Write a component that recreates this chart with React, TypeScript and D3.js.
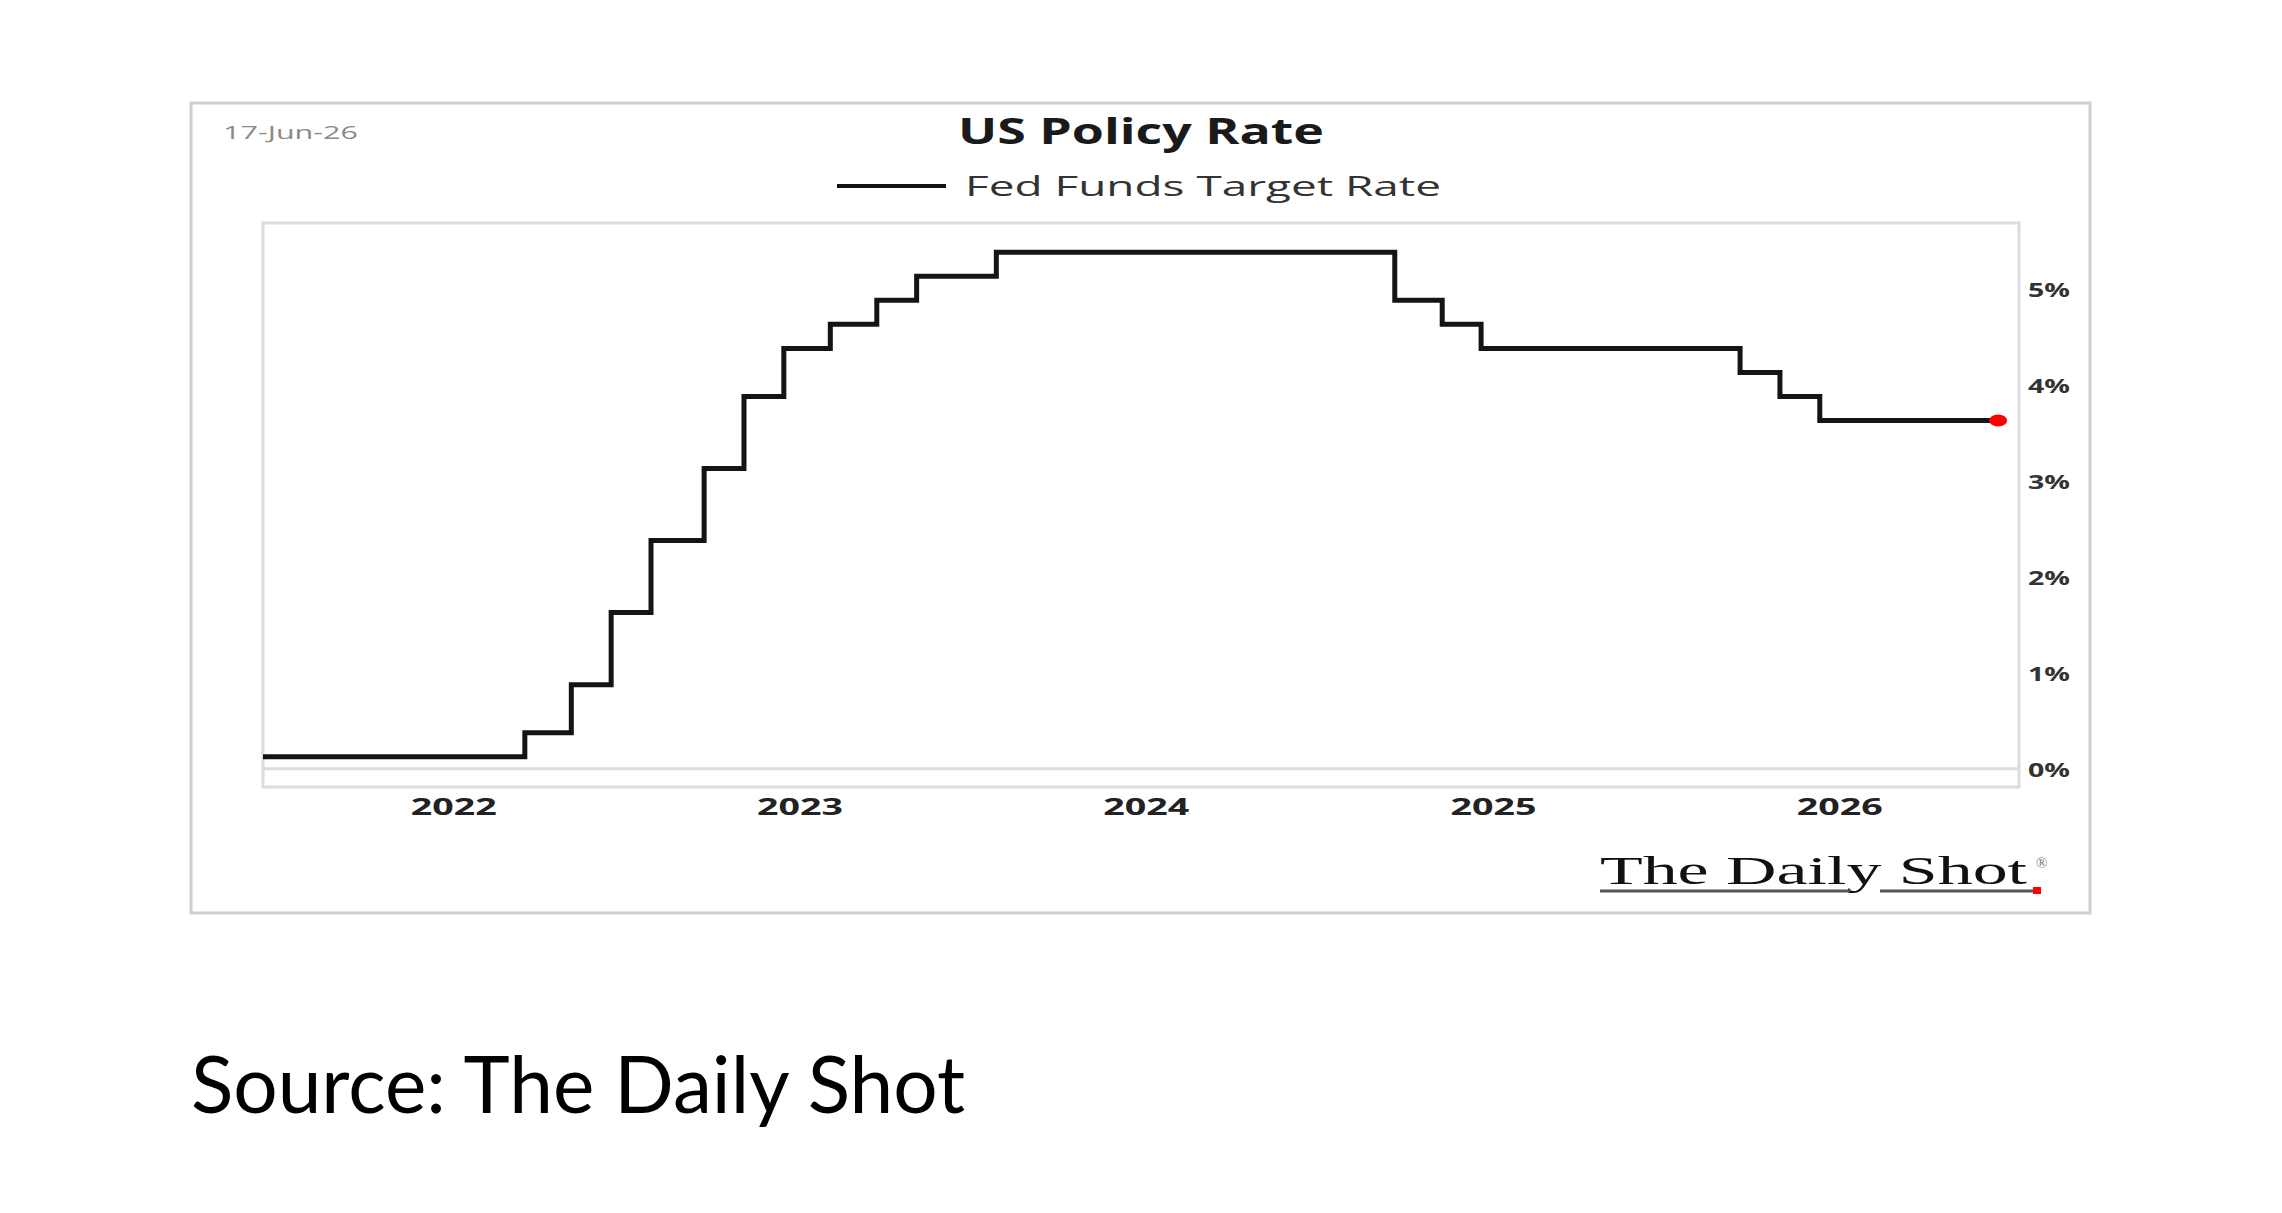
import React from "react";
import * as d3 from "d3";

// Fed Funds Target Rate (midpoint of target range), step changes
const rateDates: string[] = [
  "2021-06-14", "2022-03-17", "2022-05-05", "2022-06-16", "2022-07-28", "2022-09-22",
  "2022-11-03", "2022-12-15", "2023-02-02", "2023-03-23", "2023-05-04", "2023-07-27",
  "2024-09-19", "2024-11-08", "2024-12-19", "2025-09-18", "2025-10-30", "2025-12-11",
  "2026-06-17",
];
const rateValues: number[] = [
  0.125, 0.375, 0.875, 1.625, 2.375, 3.125,
  3.875, 4.375, 4.625, 4.875, 5.125, 5.375,
  4.875, 4.625, 4.375, 4.125, 3.875, 3.625,
  3.625,
];
const yearTicks: number[] = [2022, 2023, 2024, 2025, 2026];
const yTicks: number[] = [0, 1, 2, 3, 4, 5];
const xDomain: string[] = ["2021-06-14", "2026-07-09"];
const yDomain: number[] = [-0.19, 5.68];

const W = 2282;
const H = 1213;
const plot = { left: 263, right: 2019, top: 223, bottom: 787 };
const FONT = "'Open Sans', 'Noto Sans', sans-serif";

export default function App() {
  const parse = d3.timeParse("%Y-%m-%d");
  const data = rateDates.map((d, i) => ({ date: parse(d) as Date, value: rateValues[i] }));

  const x = d3
    .scaleTime()
    .domain([parse(xDomain[0]) as Date, parse(xDomain[1]) as Date])
    .range([plot.left, plot.right]);
  const y = d3.scaleLinear().domain(yDomain).range([plot.bottom, plot.top]);

  const line = d3
    .line<{ date: Date; value: number }>()
    .x((d) => x(d.date))
    .y((d) => y(d.value))
    .curve(d3.curveStepAfter);

  const last = data[data.length - 1];

  return (
    <svg
      width={W}
      height={H}
      style={{ position: "absolute", left: 0, top: 0, background: "#fff" }}
    >
      <rect x={0} y={0} width={W} height={H} fill="#fff" />
      {/* outer frame */}
      <rect x={191} y={103} width={2090 - 191} height={913 - 103} fill="none" stroke="#cfcfcf" strokeWidth={3} />

      {/* date stamp */}
      <text x={223} y={134} dominantBaseline="middle" fontFamily={FONT} fontSize={18} fill="#8a8a8a" textLength={135} lengthAdjust="spacingAndGlyphs">
        17-Jun-26
      </text>

      {/* title */}
      <text x={958} y={135} dominantBaseline="middle" fontFamily={FONT} fontSize={35} fontWeight={700} fill="#1a1a1a" textLength={366} lengthAdjust="spacingAndGlyphs">
        US Policy Rate
      </text>

      {/* legend */}
      <line x1={837} x2={946} y1={186} y2={186} stroke="#111" strokeWidth={4} />
      <text x={965} y={189} dominantBaseline="middle" fontFamily={FONT} fontSize={28} fill="#333" textLength={476} lengthAdjust="spacingAndGlyphs">
        Fed Funds Target Rate
      </text>

      {/* plot frame */}
      <rect x={plot.left} y={plot.top} width={plot.right - plot.left} height={plot.bottom - plot.top} fill="none" stroke="#dcdcdc" strokeWidth={3} />
      <line x1={plot.left} x2={plot.right} y1={y(0)} y2={y(0)} stroke="#dcdcdc" strokeWidth={3} />

      {/* y tick labels */}
      {yTicks.map((t) => (
        <text key={t} x={2028} y={y(t) + 3} dominantBaseline="middle" fontFamily={FONT} fontSize={20} fontWeight={700} fill="#333" textLength={42} lengthAdjust="spacingAndGlyphs">
          {t}%
        </text>
      ))}

      {/* x tick labels */}
      {yearTicks.map((yr) => {
        const cx = x(new Date(yr, 0, 1));
        return (
          <text key={yr} x={cx - 43} y={809} dominantBaseline="middle" fontFamily={FONT} fontSize={23} fontWeight={700} fill="#222" textLength={86} lengthAdjust="spacingAndGlyphs">
            {yr}
          </text>
        );
      })}

      {/* series */}
      <path d={line(data) || ""} fill="none" stroke="#141414" strokeWidth={5} strokeLinejoin="miter" />
      <ellipse cx={x(last.date)} cy={y(last.value)} rx={9} ry={6} fill="#ff0000" />

      {/* logo */}
      <text x={1600} y={884} fontFamily="'Liberation Serif', 'DejaVu Serif', serif" fontSize={40} fontWeight={400} fill="#111" textLength={427} lengthAdjust="spacingAndGlyphs">
        The Daily Shot
      </text>
      <text x={2036} y={868} fontFamily="'Liberation Serif', serif" fontSize={15} fill="#777">
        ®
      </text>
      <line x1={1600} x2={1850} y1={891} y2={891} stroke="#555" strokeWidth={3} />
      <line x1={1880} x2={2035} y1={891} y2={891} stroke="#555" strokeWidth={3} />
      <rect x={2033} y={887} width={8} height={7} fill="#ff0000" />

      {/* source */}
      <text x={191} y={1113} fontFamily="Lato, 'Open Sans', sans-serif" fontSize={80} fill="#000" textLength={774} lengthAdjust="spacingAndGlyphs">
        Source: The Daily Shot
      </text>
    </svg>
  );
}
